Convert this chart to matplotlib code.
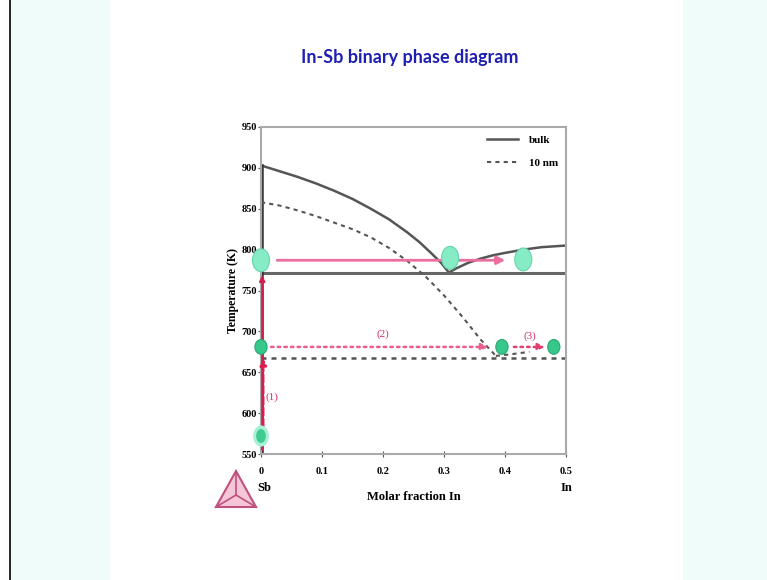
import matplotlib.pyplot as plt
from matplotlib.patches import Rectangle, Polygon, Ellipse

# liquidus, bulk
bulk_left_x = [0, 0.03, 0.06, 0.09, 0.12, 0.15, 0.18, 0.21, 0.24, 0.26, 0.28, 0.295, 0.308]
bulk_left_T = [903, 896, 889, 881, 872, 862, 850, 837, 821, 809, 795, 784, 772]
bulk_right_x = [0.308, 0.32, 0.34, 0.36, 0.38, 0.4, 0.43, 0.46, 0.5]
bulk_right_T = [772, 777, 784, 789, 793, 796, 800, 803, 805]
bulk_eutectic = 772

# liquidus, 10 nm particles
nano_left_x = [0, 0.03, 0.06, 0.09, 0.12, 0.15, 0.18, 0.21, 0.24, 0.27, 0.3, 0.33, 0.36, 0.385]
nano_left_T = [858, 854, 848, 841, 833, 825, 815, 802, 786, 767, 744, 718, 690, 670]
nano_right_x = [0.385, 0.41, 0.44]
nano_right_T = [670, 672, 675]
nano_eutectic = 668

# marked states
bulk_pts_x = [0, 0.31, 0.43]
bulk_pts_T = [787, 790, 788]
nano_pts_x = [0, 0.395, 0.48]
nano_pts_T = [681, 681, 681]
start_x, start_T = 0, 572

xticks = [0, 0.1, 0.2, 0.3, 0.4, 0.5]
yticks = [550, 600, 650, 700, 750, 800, 850, 900, 950]

fig = plt.figure(figsize=(7.67, 5.8), dpi=100)
fig.patch.set_facecolor('white')
fig.patches.append(Rectangle((10/767, 0), 100/767, 1, transform=fig.transFigure,
                             facecolor='#effcfa', edgecolor='none', zorder=0))
fig.patches.append(Rectangle((683/767, 0), 84/767, 1, transform=fig.transFigure,
                             facecolor='#effcfa', edgecolor='none', zorder=0))
fig.add_artist(plt.Line2D([9.5/767, 9.5/767], [0, 1], transform=fig.transFigure,
                          color='black', lw=1.2))

fig.text(410/767, 1 - 57/580, 'In-Sb binary phase diagram', color='#1f1fb4',
         fontsize=13, fontweight='bold', family='Lato', ha='center', va='center')

ax = fig.add_axes([261/767, 1 - 454/580, 305/767, 327/580])
serif = 'Liberation Serif'

ax.plot(bulk_left_x, bulk_left_T, color='#555555', lw=1.8, label='bulk')
ax.plot(bulk_right_x, bulk_right_T, color='#555555', lw=1.8)
ax.axhline(bulk_eutectic, color='#666666', lw=2.2)
ax.plot([0.002, 0.002], [550, 903], color='#333333', lw=1.8)

ax.plot(nano_left_x, nano_left_T, color='#555555', lw=1.5, ls=(0, (2, 2)), label='10 nm')
ax.plot(nano_right_x, nano_right_T, color='#555555', lw=1.5, ls=(0, (2, 2)))
ax.axhline(nano_eutectic, color='#555555', lw=1.8, ls=(0, (2, 2)))

# arrows
ax.annotate('', xy=(0.002, 772), xytext=(0.002, 552),
            arrowprops=dict(arrowstyle='-|>', color='#cc1f4a', lw=1.5, mutation_scale=8))
ax.annotate('', xy=(0.405, 787), xytext=(0.022, 787),
            arrowprops=dict(arrowstyle='-|>', color='#ea6fa0', lw=2, mutation_scale=12))
ax.annotate('', xy=(0.004, 670), xytext=(0.004, 580),
            arrowprops=dict(arrowstyle='-|>', color='#d81f4e', lw=1.5, ls='--', mutation_scale=10))
ax.annotate('', xy=(0.377, 681), xytext=(0.012, 681),
            arrowprops=dict(arrowstyle='-|>', color='#ea5d90', lw=1.8, ls=':', mutation_scale=10))
ax.annotate('', xy=(0.47, 681), xytext=(0.41, 681),
            arrowprops=dict(arrowstyle='-|>', color='#e0406f', lw=1.8, ls=':', mutation_scale=10))
ax.text(0.018, 620, '(1)', color='#d83060', fontsize=8, family=serif, ha='center', va='center')
ax.text(0.2, 696, '(2)', color='#d83060', fontsize=8, family=serif, ha='center', va='center')
ax.text(0.44, 694, '(3)', color='#d83060', fontsize=8, family=serif, ha='center', va='center')

# state markers as ellipses in data units
for x, T in zip(bulk_pts_x, bulk_pts_T):
    ax.add_patch(Ellipse((x, T), 0.028, 28, facecolor='#86ecc6', edgecolor='#66d4aa',
                         lw=0.8, zorder=5, clip_on=False))
for x, T in zip(nano_pts_x, nano_pts_T):
    ax.add_patch(Ellipse((x, T), 0.02, 18, facecolor='#36c88a', edgecolor='#2aa872',
                         lw=0.8, zorder=5, clip_on=False))
ax.add_patch(Ellipse((start_x, start_T), 0.026, 26, facecolor='#a7f2d6', edgecolor='none',
                     zorder=5, clip_on=False))
ax.add_patch(Ellipse((start_x, start_T), 0.016, 17, facecolor='#40cc90', edgecolor='none',
                     zorder=6, clip_on=False))

ax.set_xlim(0, 0.5)
ax.set_ylim(550, 950)
ax.set_xticks(xticks)
ax.set_xticklabels(['0', '0.1', '0.2', '0.3', '0.4', '0.5'])
ax.set_yticks(yticks)
for s in ax.spines.values():
    s.set_color('#aaaaaa')
    s.set_linewidth(1.5)
ax.tick_params(axis='x', direction='inout', length=4, color='#555555', labelsize=7.5, pad=7)
ax.tick_params(axis='y', direction='out', length=2, color='#555555', labelsize=7.5, pad=1)
for lab in ax.get_xticklabels() + ax.get_yticklabels():
    lab.set_family(serif)
    lab.set_fontweight('bold')
ax.set_ylabel('Temperature (K)', family=serif, fontweight='bold', fontsize=8.5, labelpad=2)
ax.set_xlabel('Molar fraction In', family=serif, fontweight='bold', fontsize=9, labelpad=11)
ax.text(0.01, -0.105, 'Sb', transform=ax.transAxes, family=serif, fontweight='bold',
        fontsize=9, ha='center', va='center')
ax.text(1, -0.105, 'In', transform=ax.transAxes, family=serif, fontweight='bold',
        fontsize=9, ha='center', va='center')

leg = ax.legend(loc='upper right', frameon=False, prop={'family': serif, 'weight': 'bold', 'size': 8},
                handlelength=2.8, labelspacing=1.2, borderaxespad=0.3, handletextpad=1.0)

# logo triangle
corners = [(216/767, 1-507/580), (256/767, 1-507/580), (236/767, 1-471/580)]
fig.patches.append(Polygon(corners, closed=True, transform=fig.transFigure,
                           facecolor='#f4c6d8', edgecolor='#c0507c', lw=1.5))
cx, cy = 236 / 767, 1 - 495 / 580
for px, py in corners:
    fig.add_artist(plt.Line2D([cx, px], [cy, py], transform=fig.transFigure,
                              color='#c0507c', lw=1.2))

fig.savefig('out.png', dpi=100)
